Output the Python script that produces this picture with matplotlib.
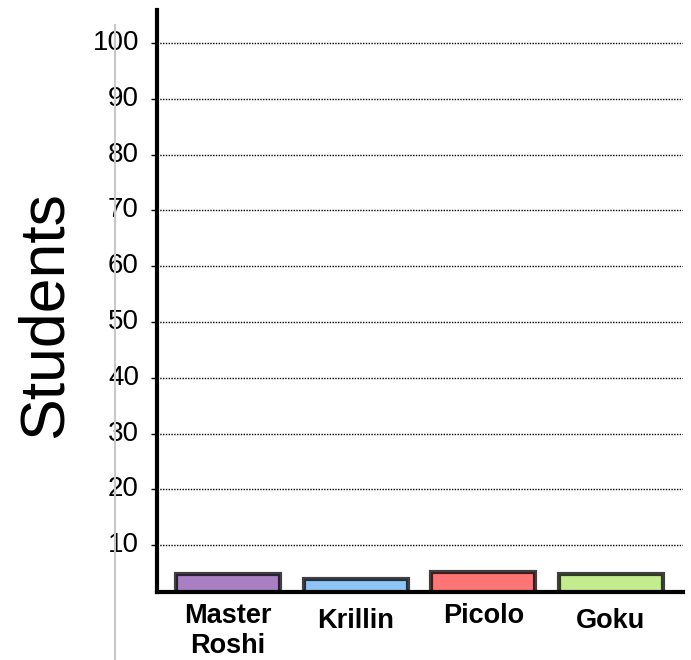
import matplotlib.pyplot as plt
from matplotlib.lines import Line2D
from matplotlib.transforms import ScaledTranslation

plt.rcParams['font.family'] = ['Liberation Sans', 'DejaVu Sans']

# data
characters = ["Master\nRoshi", "Krillin", "Picolo", "Goku"]
students = [4.8, 3.9, 5.2, 4.8]
bar_colors = ["#a97fc4", "#8ec4f6", "#ff7474", "#c2ec8e"]
y_ticks = [10, 20, 30, 40, 50, 60, 70, 80, 90, 100]

fig = plt.figure(figsize=(6.91, 6.60), dpi=100)
ax = fig.add_axes([157/691, 1-592/660, 526/691, 582/660])

x = list(range(len(characters)))
ax.bar(x, students, width=0.815, color=bar_colors,
       edgecolor=(0, 0, 0, 0.75), linewidth=3, zorder=3)

ax.set_xlim(-0.556, 3.564)
ax.set_ylim(1.6, 105.9)  # the x axis line sits a little above zero
ax.set_yticks(y_ticks)
ax.set_yticklabels([str(v) for v in y_ticks], fontsize=20)
ax.set_xticks(x)
ax.set_xticklabels(characters, fontsize=19.5, fontweight='bold', linespacing=1.2)
ax.tick_params(axis='x', length=0, pad=8)
ax.tick_params(axis='y', length=4, width=1, pad=9)

# krillin and goku labels sit a bit lower
for lab, dy in zip(ax.get_xticklabels(), [0, -5, 0, -5]):
    lab.set_transform(lab.get_transform() + ScaledTranslation(0, dy/100, fig.dpi_scale_trans))
# numbers sit a touch above their gridline
for lab in ax.get_yticklabels():
    lab.set_transform(lab.get_transform() + ScaledTranslation(0, 3/100, fig.dpi_scale_trans))

ax.yaxis.grid(True, linestyle=(0, (1, 1)), linewidth=1, color='black')
ax.set_axisbelow(True)

for s in ['top', 'right']:
    ax.spines[s].set_visible(False)
ax.spines['left'].set_linewidth(3)
ax.spines['bottom'].set_linewidth(3)
ax.spines['left'].set_zorder(4)
ax.spines['bottom'].set_zorder(4)

ax.set_ylabel("Students", fontsize=45, va='center')
ax.yaxis.set_label_coords((45-157)/526, (592-315)/582)

# thin gray guide line on the left
fig.add_artist(Line2D([115/691, 115/691], [0, 1-25/660], color='#c8c8c8', lw=1.5))

fig.savefig("out.png", dpi=100)
